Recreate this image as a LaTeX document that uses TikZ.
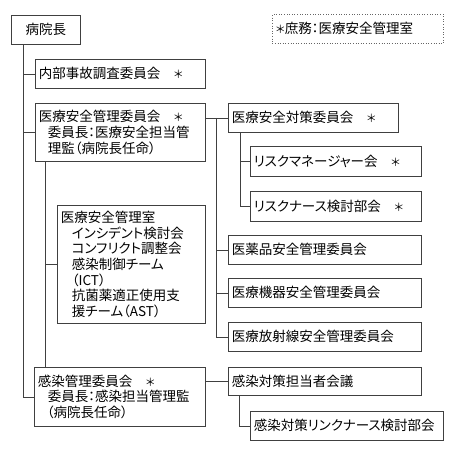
\documentclass[tikz,border=0pt]{standalone}
\usepackage{fontspec}
\setmainfont{Noto Sans CJK JP}[RawFeature=+palt]
\newcommand\indt[1]{\hspace*{#1pt}}
\newcommand\astk{{\fontsize{11}{12}\selectfont ＊}}
\begin{document}
\begin{tikzpicture}[x=1pt,y=-1pt,line width=0.7pt,
    box/.style={draw=black!75, rectangle, anchor=north west, inner xsep=3.5pt, inner ysep=0pt,
      align=left, text width=#1, font=\fontsize{13.5}{15.7}\selectfont},
    link/.style={draw=black!75}]
    \useasboundingbox (0,0) rectangle (456,456);
    \node[box=62pt, align=center, minimum height=29pt] (chief) at (11,15) {病院長};
    \node[box=164pt, draw=black!60, dotted, line width=0.6pt, minimum height=29pt] (note) at (272,14) {\astk 庶務：医療安全管理室};
    \node[box=163pt, minimum height=29pt] (naibu) at (35,59) {内部事故調査委員会　\astk};
    \node[box=163pt, minimum height=58pt] (anzen) at (35,103)
      {医療安全管理委員会　\astk\\\indt{9}委員長：医療安全担当管\\\indt{9}理監（病院長任命）};
    \node[box=141pt, minimum height=118pt] (shitsu) at (57,205)
      {医療安全管理室\\\indt{11}インシデント検討会\\\indt{11}コンフリクト調整会\\\indt{11}感染制御チーム\\\indt{11}（ICT）\\\indt{11}抗菌薬適正使用支\\\indt{11}援チーム（AST）};
    \node[box=164pt, minimum height=59pt] (kansen) at (34,367)
      {感染管理委員会　\astk\\\indt{10}委員長：感染担当管理監\\\indt{9}（病院長任命）};
    \node[box=163pt, minimum height=29pt] (taisaku) at (228,103) {医療安全対策委員会　\astk};
    \node[box=164pt, minimum height=30pt] (riskm) at (250,146) {リスクマネージャー会　\astk};
    \node[box=164pt, minimum height=30pt] (riskn) at (250,191) {リスクナース検討部会　\astk};
    \node[box=186pt, minimum height=29pt] (yakuhin) at (228,235) {医薬品安全管理委員会};
    \node[box=186pt, minimum height=29pt] (kiki) at (228,278) {医療機器安全管理委員会};
    \node[box=186pt, minimum height=29pt] (housha) at (228,322) {医療放射線安全管理委員会};
    \node[box=186pt, minimum height=28pt] (kaigi) at (228,367) {感染対策担当者会議};
    \node[box=186pt, minimum height=29pt] (linkn) at (250,411) {感染対策リンクナース検討部会};
    % trunk lines
    \coordinate (cT) at ([xshift=12pt]chief.south west);
    \coordinate (aT) at ([xshift=10pt]anzen.south west);
    \coordinate (rT) at ([xshift=11pt]anzen.east |- taisaku.west);
    \coordinate (tT) at ([xshift=12pt]taisaku.south west);
    \coordinate (kT) at ([xshift=11pt]kaigi.south west);
    \path[link] (cT) |- (naibu.west) (cT) |- (anzen.west) (cT) |- (kansen.west);
    \path[link] (aT) |- (shitsu.west) (aT) -- (aT |- kansen.north);
    \path[link] (anzen.east |- taisaku.west) -- (taisaku.west);
    \path[link] (rT) |- (yakuhin.west) (rT) |- (kiki.west) (rT) |- (housha.west);
    \path[link] (tT) |- (riskm.west) (tT) |- (riskn.west);
    \path[link] (kansen.east |- kaigi.west) -- (kaigi.west);
    \path[link] (kT) |- (linkn.west);
\end{tikzpicture}
\end{document}
